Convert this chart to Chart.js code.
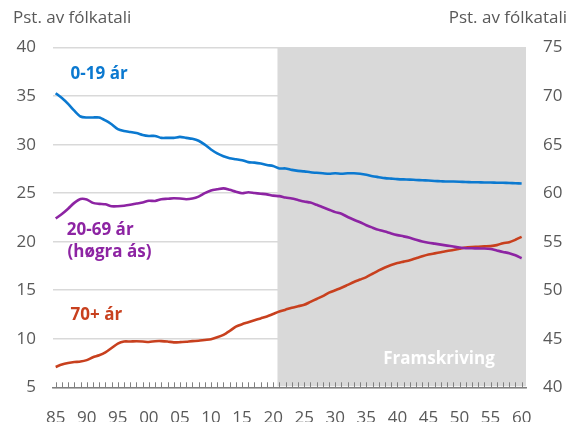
<!DOCTYPE html>
<html>
<head>
<meta charset="utf-8">
<script src="https://cdn.jsdelivr.net/npm/chart.js@4"></script>
<style>
  html, body { margin: 0; padding: 0; background: #fff; }
</style>
</head>
<body>
<canvas id="chart" width="570" height="422"></canvas>
<script>
  // data (share of population, %)
  var years = [1985, 1986, 1987, 1988, 1989, 1990, 1991, 1992, 1993, 1994,
    1995, 1996, 1997, 1998, 1999, 2000, 2001, 2002, 2003, 2004,
    2005, 2006, 2007, 2008, 2009, 2010, 2011, 2012, 2013, 2014,
    2015, 2016, 2017, 2018, 2019, 2020, 2021, 2022, 2023, 2024,
    2025, 2026, 2027, 2028, 2029, 2030, 2031, 2032, 2033, 2034,
    2035, 2036, 2037, 2038, 2039, 2040, 2041, 2042, 2043, 2044,
    2045, 2046, 2047, 2048, 2049, 2050, 2051, 2052, 2053, 2054,
    2055, 2056, 2057, 2058, 2059, 2060];

  // 0-19 ár, left axis
  var age0to19 = [35.3, 34.8, 34.2, 33.5, 32.9, 32.8, 32.8, 32.8, 32.5, 32.1,
    31.6, 31.4, 31.3, 31.2, 31.0, 30.9, 30.9, 30.7, 30.7, 30.7,
    30.8, 30.7, 30.6, 30.4, 30.0, 29.5, 29.1, 28.8, 28.6, 28.5,
    28.4, 28.2, 28.15, 28.05, 27.9, 27.8, 27.55, 27.55, 27.4, 27.3,
    27.25, 27.15, 27.1, 27.05, 27.0, 27.05, 27.0, 27.05, 27.05, 27.0,
    26.9, 26.75, 26.65, 26.55, 26.5, 26.45, 26.42, 26.4, 26.36, 26.33,
    26.3, 26.26, 26.23, 26.2, 26.2, 26.18, 26.15, 26.13, 26.12, 26.1,
    26.1, 26.08, 26.07, 26.05, 26.03, 26.0];

  // 20-69 ár, right axis
  var age20to69 = [57.4, 57.85, 58.4, 59.0, 59.4, 59.35, 59.0, 58.9, 58.85, 58.65,
    58.65, 58.7, 58.8, 58.93, 59.05, 59.22, 59.2, 59.38, 59.42, 59.48,
    59.45, 59.38, 59.45, 59.65, 60.0, 60.28, 60.4, 60.5, 60.35, 60.15,
    60.0, 60.1, 60.02, 59.95, 59.88, 59.75, 59.7, 59.55, 59.45, 59.3,
    59.15, 59.03, 58.8, 58.55, 58.3, 58.05, 57.88, 57.55, 57.26, 57.0,
    56.7, 56.45, 56.22, 56.05, 55.85, 55.68, 55.55, 55.4, 55.2, 55.02,
    54.9, 54.8, 54.7, 54.6, 54.5, 54.4, 54.33, 54.32, 54.31, 54.3,
    54.25, 54.1, 53.95, 53.82, 53.6, 53.3];

  // 70+ ár, left axis
  var age70plus = [7.1, 7.35, 7.5, 7.6, 7.65, 7.8, 8.1, 8.3, 8.6, 9.05,
    9.5, 9.72, 9.72, 9.74, 9.72, 9.67, 9.75, 9.76, 9.72, 9.63,
    9.65, 9.7, 9.76, 9.8, 9.88, 9.95, 10.15, 10.4, 10.8, 11.25,
    11.5, 11.7, 11.9, 12.1, 12.3, 12.55, 12.8, 13.0, 13.2, 13.35,
    13.5, 13.8, 14.1, 14.4, 14.75, 15.0, 15.25, 15.55, 15.85, 16.1,
    16.35, 16.7, 17.05, 17.35, 17.6, 17.8, 17.95, 18.1, 18.3, 18.5,
    18.68, 18.8, 18.92, 19.05, 19.15, 19.28, 19.4, 19.45, 19.48, 19.52,
    19.55, 19.65, 19.85, 19.95, 20.2, 20.5];

  var projectionStart = 2020.7;
  var leftTicks = [5, 10, 15, 20, 25, 30, 35, 40];
  var rightTicks = [40, 45, 50, 55, 60, 65, 70, 75];

  var BLUE = '#0b79d0';
  var PURPLE = '#8d24a3';
  var RED = '#c8401e';
  var GREY_TEXT = '#595959';

  Chart.defaults.font.family = "'Open Sans', sans-serif";
  Chart.defaults.font.size = 17;
  Chart.defaults.color = GREY_TEXT;

  function points(values) {
    return values.map(function(v, i) { return { x: years[i], y: v }; });
  }

  var shadePlugin = {
    id: 'shade',
    beforeDatasetsDraw: function(chart) {
      var a = chart.chartArea, ctx = chart.ctx;
      var x0 = chart.scales.x.getPixelForValue(projectionStart);
      ctx.save();
      ctx.fillStyle = '#d9d9d9';
      ctx.fillRect(x0, a.top, a.right - x0, a.bottom - a.top - 1);
      ctx.restore();
    }
  };

  var yearTicksPlugin = {
    id: 'yearTicks',
    afterDatasetsDraw: function(chart) {
      var ctx = chart.ctx, x = chart.scales.x, b = chart.chartArea.bottom;
      ctx.save();
      ctx.strokeStyle = '#808080';
      ctx.lineWidth = 1;
      years.forEach(function(yr) {
        var px = Math.round(x.getPixelForValue(yr)) + 0.5;
        ctx.beginPath();
        ctx.moveTo(px, b);
        ctx.lineTo(px, b - 5);
        ctx.stroke();
      });
      ctx.restore();
    }
  };

  var labels = [
    { text: '0-19 ár', x: 1987.4, y: 37.3, color: BLUE },
    { text: '20-69 ár', x: 1986.8, y: 21.2, color: PURPLE },
    { text: '(høgra ás)', x: 1986.9, y: 18.9, color: PURPLE },
    { text: '70+ ár', x: 1987.4, y: 12.4, color: RED }
  ];

  var textPlugin = {
    id: 'texts',
    afterDatasetsDraw: function(chart) {
      var ctx = chart.ctx, x = chart.scales.x, y = chart.scales.y;
      ctx.save();
      ctx.textBaseline = 'middle';
      ctx.font = "bold 17px 'Open Sans', sans-serif";
      labels.forEach(function(l) {
        ctx.fillStyle = l.color;
        ctx.textAlign = 'left';
        ctx.fillText(l.text, x.getPixelForValue(l.x), y.getPixelForValue(l.y));
      });
      ctx.fillStyle = '#ffffff';
      ctx.textAlign = 'center';
      ctx.fillText('Framskriving', x.getPixelForValue(2046.7), y.getPixelForValue(7.9));

      ctx.font = "17px 'Open Sans', sans-serif";
      ctx.fillStyle = GREY_TEXT;
      ctx.textAlign = 'left';
      ctx.fillText('Pst. av fólkatali', 13, 18);
      ctx.textAlign = 'right';
      ctx.fillText('Pst. av fólkatali', 567, 18);
      ctx.restore();
    }
  };

  new Chart(document.getElementById('chart').getContext('2d'), {
    type: 'line',
    data: {
      datasets: [
        { label: '0-19 ár', data: points(age0to19), yAxisID: 'y', borderColor: BLUE },
        { label: '20-69 ár', data: points(age20to69), yAxisID: 'y2', borderColor: PURPLE },
        { label: '70+ ár', data: points(age70plus), yAxisID: 'y', borderColor: RED }
      ]
    },
    options: {
      responsive: false,
      animation: false,
      layout: { padding: { top: 47.6, left: 0, right: 0, bottom: 0 } },
      elements: {
        line: { borderWidth: 2.6, tension: 0.25, fill: false },
        point: { radius: 0 }
      },
      plugins: {
        legend: { display: false },
        tooltip: { enabled: false }
      },
      scales: {
        x: {
          type: 'linear',
          min: 1984.57,
          max: 2060.7,
          grid: { display: false },
          border: { display: true, color: '#808080', width: 1.5 },
          ticks: {
            stepSize: 5,
            includeBounds: false,
            autoSkip: false,
            maxRotation: 0,
            padding: 13,
            callback: function(v) { return String(v).slice(2); }
          },
          afterFit: function(s) { s.height = 34.7; }
        },
        y: {
          position: 'left',
          min: leftTicks[0],
          max: leftTicks[leftTicks.length - 1],
          afterBuildTicks: function(s) { s.ticks = leftTicks.map(function(v) { return { value: v }; }); },
          grid: { color: '#d9d9d9', lineWidth: 1.5, drawTicks: false },
          border: { display: false },
          ticks: { padding: 17 },
          afterFit: function(s) { s.width = 53; }
        },
        y2: {
          position: 'right',
          min: rightTicks[0],
          max: rightTicks[rightTicks.length - 1],
          afterBuildTicks: function(s) { s.ticks = rightTicks.map(function(v) { return { value: v }; }); },
          grid: { drawOnChartArea: false, drawTicks: false },
          border: { display: false },
          ticks: { padding: 17 },
          afterFit: function(s) { s.width = 44; }
        }
      }
    },
    plugins: [shadePlugin, yearTicksPlugin, textPlugin]
  });
</script>
</body>
</html>
